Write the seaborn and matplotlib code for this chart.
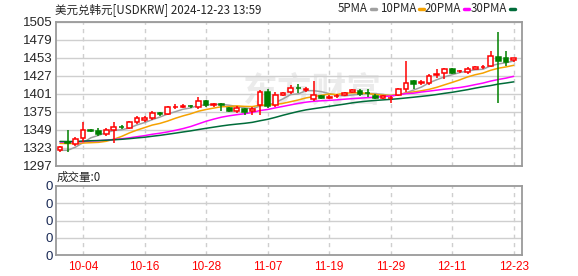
import numpy as np
import matplotlib
matplotlib.use("Agg")
import matplotlib.pyplot as plt
import seaborn as sns

dates = ["10-01","10-02","10-03","10-04","10-07","10-08","10-09","10-10","10-11","10-14",
         "10-15","10-16","10-17","10-18","10-21","10-22","10-23","10-24","10-25","10-28",
         "10-29","10-30","10-31","11-01","11-04","11-05","11-06","11-07","11-08","11-11",
         "11-12","11-13","11-14","11-15","11-18","11-19","11-20","11-21","11-22","11-25",
         "11-26","11-27","11-28","11-29","12-02","12-03","12-04","12-05","12-06","12-09",
         "12-10","12-11","12-12","12-13","12-16","12-17","12-18","12-19","12-20","12-23"]
opens = [1319,1330.5,1327.5,1337,1348.3,1346.5,1342.5,1348,1353.3,1351.4,
         1359.6,1363,1365.5,1372.5,1372,1381.2,1382.3,1383.3,1382,1390.5,
         1385,1385.5,1379.8,1375.5,1378.5,1376,1384,1404,1384,1399.5,
         1403,1409.5,1406.3,1393.5,1397.5,1395,1397,1398.5,1403,1405.4,
         1401.7,1398.2,1394.2,1394.6,1399,1407,1419,1416.8,1416.4,1428,
         1431,1437,1433,1432.6,1437,1439.4,1440.5,1454.4,1452.5,1449]
highs = [1325,1348,1338,1360,1350,1351.4,1351,1359.5,1355.5,1361,
         1368,1368,1375.4,1374,1383.3,1386,1386,1385,1396,1392,
         1388,1387.5,1382,1382.5,1380,1381,1406.5,1408,1403.5,1404,
         1413,1414.5,1411,1419,1399.5,1398.5,1400,1403.5,1407.5,1408,
         1408,1400.5,1398.5,1397.5,1409.5,1448,1421,1421,1430,1436.5,
         1438.5,1438,1435.5,1439,1440.5,1442,1462,1490,1462,1453]
lows = [1316.5,1316,1325,1331,1345.5,1339.4,1340,1330,1350,1350,
        1357.6,1360,1363.5,1369,1370.6,1379,1380,1380,1378.5,1381,
        1382,1375.5,1374.5,1373,1370.6,1370.5,1370.5,1380,1381.5,1398,
        1400,1402,1403,1390.5,1392.5,1392.5,1394.5,1397,1401.5,1398,
        1396,1393.5,1393,1387.5,1397.5,1403.5,1407,1414,1414,1424,
        1422,1429,1431,1430,1436,1436,1439,1387,1440.5,1447]
closes = [1324,1329.5,1336,1348,1347.5,1342.2,1348.5,1352.3,1352.8,1359.6,
          1365.5,1365.5,1373,1371.8,1381.5,1382.3,1383.3,1382.6,1390,1385,
          1385.8,1384.2,1376.2,1380.6,1375,1379,1404,1383.2,1399.5,1401.5,
          1409.8,1408.8,1407,1399,1394.4,1395.7,1397.6,1401.3,1405.9,1400,
          1401.3,1395.1,1397,1395.2,1407.2,1416.4,1415.2,1417.8,1426.5,1429.5,
          1436.8,1430.8,1433.8,1436.8,1439.5,1440,1455.4,1447.8,1446,1452]
ma5 = [1319,1319,1323.5,1330,1337.0,1340.6,1344.4,1347.7,1348.7,1351.1,
       1355.7,1359.1,1363.3,1367.1,1371.5,1374.8,1378.4,1380.3,1383.9,1384.6,
       1385.3,1385.5,1384.2,1382.4,1380.4,1379.0,1383.0,1384.4,1388.1,1393.4,
       1399.6,1400.6,1405.3,1405.2,1403.8,1401.0,1398.7,1397.6,1399.0,1400.1,
       1401.2,1400.7,1399.9,1397.7,1399.2,1402.2,1406.2,1410.4,1416.6,1421.1,
       1425.2,1428.3,1431.5,1433.5,1435.5,1436.2,1441.1,1443.9,1445.7,1448.2]
ma10 = [1329.0,1328.7,1329.0,1329.5,1330.0,1330.5,1332.0,1335.0,1339.0,1344.0,
        1348.2,1351.8,1355.5,1357.9,1361.3,1365.3,1368.8,1371.8,1375.5,1378.0,
        1380.1,1382.0,1382.3,1383.2,1382.5,1382.2,1384.2,1384.3,1385.2,1386.9,
        1389.3,1391.8,1394.8,1396.7,1398.6,1400.3,1399.6,1401.5,1402.1,1402.0,
        1401.1,1399.7,1398.7,1398.4,1399.6,1401.7,1403.5,1405.1,1407.2,1410.1,
        1413.7,1417.2,1420.9,1425.1,1428.3,1430.7,1434.7,1437.7,1439.6,1441.9]
ma20 = [1331.0,1330.8,1331.0,1331.7,1332.5,1332.9,1333.7,1334.6,1335.6,1337.0,
        1338.6,1340.2,1342.2,1343.7,1345.6,1347.9,1350.4,1353.4,1357.2,1361.0,
        1364.1,1366.9,1368.9,1370.5,1371.9,1373.7,1376.5,1378.0,1380.4,1382.5,
        1384.7,1386.9,1388.6,1389.9,1390.6,1391.2,1391.9,1392.9,1393.7,1394.4,
        1395.2,1395.7,1396.8,1397.5,1399.1,1401.0,1401.6,1403.3,1404.6,1406.0,
        1407.4,1408.5,1409.8,1411.7,1414.0,1416.2,1419.1,1421.4,1423.4,1426.0]
ma30 = [1331.8,1331.7,1331.8,1332.3,1332.8,1333.1,1333.6,1334.2,1334.9,1335.8,
        1336.9,1337.9,1339.3,1340.6,1342.2,1343.8,1345.5,1347.1,1349.0,1350.8,
        1352.5,1354.2,1355.7,1356.9,1358.0,1359.4,1361.7,1363.8,1366.6,1369.7,
        1372.5,1375.2,1377.5,1379.2,1380.8,1382.6,1384.2,1385.8,1387.6,1389.0,
        1390.2,1391.1,1391.9,1392.7,1393.6,1394.7,1395.8,1397.0,1398.2,1399.7,
        1401.4,1402.9,1404.8,1406.7,1408.9,1410.9,1412.6,1414.8,1416.3,1418.0]
ma_names = ["5PMA", "10PMA", "20PMA", "30PMA"]
tick_labels = ["10-04","10-16","10-28","11-07","11-19","11-29","12-11","12-23"]
price_ticks = [1297,1323,1349,1375,1401,1427,1453,1479,1505]
title = "美元兑韩元[USDKRW] 2024-12-23 13:59"
vol_title = "成交量:0"

sns.set_style("white")
plt.rcParams['font.family'] = ['Noto Sans CJK SC', 'DejaVu Sans']

W, H = 578, 276
fig = plt.figure(figsize=(W/100, H/100), dpi=100)
ax = fig.add_axes([56/W, 1-165.5/H, 466/W, 143.8/H])
axv = fig.add_axes([56/W, 1-255.3/H, 466/W, 69.3/H])

idx = np.arange(len(dates))
tick_pos = [dates.index(t) for t in tick_labels]

GRID = '#cfcfcf'
for a in (ax, axv):
    a.set_xlim(-0.52, 60.08)
    for sp in a.spines.values():
        sp.set_color('#9a9a9a')
        sp.set_linewidth(1.3)
    for p in tick_pos:
        a.axvline(p, color=GRID, lw=1, ls=(0, (3, 3)), zorder=0.6)
    a.tick_params(length=0, pad=2.5)

ax.set_ylim(price_ticks[0], price_ticks[-1])
ax.set_yticks(price_ticks)
ax.set_yticklabels([str(v) for v in price_ticks], family='Liberation Sans', fontsize=9.5)
for v in price_ticks:
    ax.axhline(v, color=GRID, lw=1, zorder=0.6)
ax.set_xticks([])

ax.text(0.55, 0.52, "东方财富", transform=ax.transAxes, fontsize=25, color='#ebebeb',
        ha='center', va='center', fontweight='bold', zorder=0.5)

# MA lines
ma_colors = ['#a0a0a0', '#f5a200', '#ff00ff', '#006c3a']
for vals, col in zip([ma5, ma10, ma20, ma30], ma_colors):
    sns.lineplot(x=idx, y=vals, color=col, lw=1.1, ax=ax, zorder=2)

# Candles
UP, DN = '#ff0000', '#008000'
o = np.array(opens); c = np.array(closes); hi = np.array(highs); lo = np.array(lows)
up = c >= o
cols = np.where(up, UP, DN)
ax.vlines(idx, lo, hi, colors=cols, lw=1.1, zorder=3)
bottoms = np.minimum(o, c)
heights = np.maximum(np.abs(c - o), 0.3)
ax.bar(idx[up], heights[up], bottom=bottoms[up], width=0.62, facecolor='white',
       edgecolor=UP, linewidth=1.1, zorder=4)
ax.bar(idx[~up], heights[~up], bottom=bottoms[~up], width=0.62, facecolor=DN,
       edgecolor=DN, linewidth=1.1, zorder=4)
ax.set_ylabel(''); ax.set_xlabel('')

# volume panel (empty)
axv.set_ylim(0, 4)
axv.set_yticks([0, 1, 2, 3, 4])
axv.set_yticklabels(['0'] * 5, family='Liberation Sans', fontsize=9.5, color='#1a2a55')
for v in [1, 2, 3]:
    axv.axhline(v, color=GRID, lw=1, zorder=0.6)
axv.set_xticks(tick_pos)
axv.set_xticklabels(tick_labels, family='Liberation Sans', fontsize=8.5, color='#ff0000')
axv.tick_params(axis='x', pad=4)

fig.text(55/W, 1-10/H, title, fontsize=8.3, va='center', ha='left')
fig.text(57/W, 1-177/H, vol_title, fontsize=8.3, va='center', ha='left')

# legend
lx = [338, 380, 425, 471]
leg_texts = [fig.text(x0/W, 1-9/H, name, fontsize=8.3, va='center', ha='left')
             for name, x0 in zip(ma_names, lx)]
fig.canvas.draw()
r = fig.canvas.get_renderer()
for t, col in zip(leg_texts, ma_colors):
    bb = t.get_window_extent(r)
    fig.add_artist(plt.Line2D([(bb.x1 + 3)/W, (bb.x1 + 8)/W], [1-9/H, 1-9/H],
                              color=col, lw=2.5, transform=fig.transFigure))

fig.savefig("out.png", dpi=100)
